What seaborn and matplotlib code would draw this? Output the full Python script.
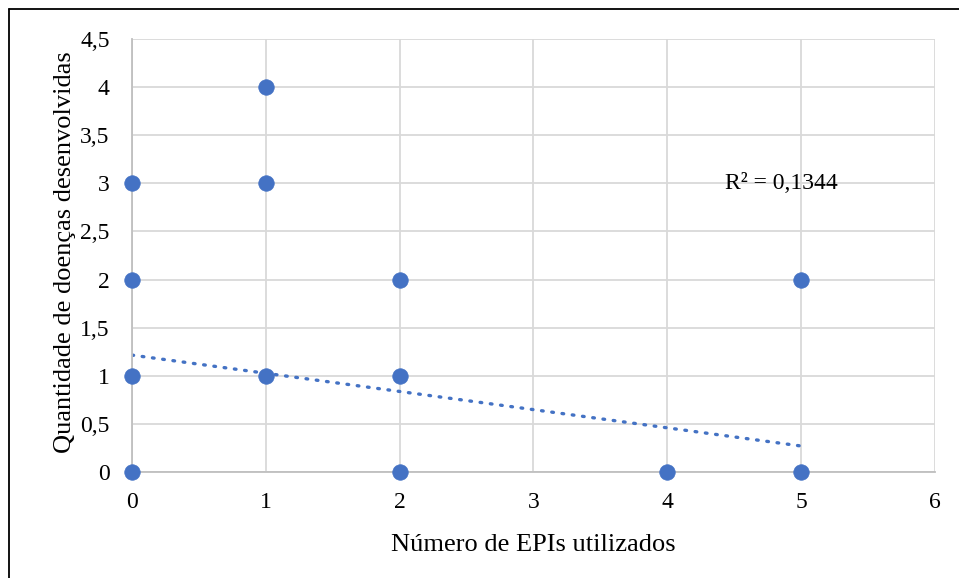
import matplotlib
matplotlib.use("Agg")
import matplotlib.pyplot as plt
import matplotlib.lines as mlines
import numpy as np
import pandas as pd
import seaborn as sns

# Number of PPE items used vs. number of diseases developed
epis_utilizados = [0, 0, 0, 0, 1, 1, 1, 2, 2, 2, 4, 5, 5]
qtd_doencas = [0, 1, 2, 3, 4, 3, 1, 2, 1, 0, 0, 2, 0]

# Linear trendline (Excel-style) and its coefficient of determination
trend_intercept = 1.215
trend_slope = -0.189
r_squared_label = "R² = 0,1344"

x_ticks = [0, 1, 2, 3, 4, 5, 6]
y_ticks = [0, 0.5, 1, 1.5, 2, 2.5, 3, 3.5, 4, 4.5]

df = pd.DataFrame({"epis": epis_utilizados, "doencas": qtd_doencas})

sns.set_theme(style="white")
plt.rcParams["font.family"] = ["Liberation Serif", "DejaVu Serif"]

blue = "#4472C4"
fig = plt.figure(figsize=(9.59, 5.78), dpi=100)
ax = fig.add_axes([0.1376, 0.1834, 0.8374, 0.7491])

sns.scatterplot(data=df, x="epis", y="doencas", ax=ax, color=blue, s=125,
                edgecolor=blue, linewidth=0.5, zorder=3, clip_on=False)

trend_x = np.array([0, 5])
trend_y = trend_intercept + trend_slope * trend_x
ax.plot(trend_x, trend_y, color=blue, linestyle=(0, (0.5, 2.6)), linewidth=2.4,
        dash_capstyle="round", zorder=2)

ax.text(4.43, 3.0, r_squared_label, fontsize=17, color="#000000",
        ha="left", va="center")

ax.set_xlim(0, 6)
ax.set_ylim(0, 4.5)
ax.set_xticks(x_ticks)
ax.set_yticks(y_ticks)
ax.set_xticklabels([str(v) for v in x_ticks], fontsize=17)
ax.set_yticklabels([f"{v:g}".replace(".", ",") for v in y_ticks], fontsize=17)
ax.tick_params(axis="x", length=0, pad=14.5, colors="#000000")
ax.tick_params(axis="y", length=0, pad=16, colors="#000000")

ax.grid(True, color="#d9d9d9", linewidth=1.3)
ax.set_axisbelow(True)
for side in ["top", "right"]:
    ax.spines[side].set_visible(False)
for side in ["left", "bottom"]:
    ax.spines[side].set_color("#bfbfbf")
    ax.spines[side].set_linewidth(1.3)

ax.set_xlabel("Número de EPIs utilizados", fontsize=19, color="#000000", labelpad=15)
ax.set_ylabel("Quantidade de doenças desenvolvidas", fontsize=19, color="#000000", labelpad=3)
ax.yaxis.label.set_y(0.508)

# Chart area frame (top and left edges)
fig.add_artist(mlines.Line2D([0.0094, 1.0], [0.9844, 0.9844], transform=fig.transFigure,
                             color="#000000", linewidth=1.3))
fig.add_artist(mlines.Line2D([0.0094, 0.0094], [0.0, 0.9844], transform=fig.transFigure,
                             color="#000000", linewidth=1.3))

fig.savefig("out.png", dpi=100, facecolor="white")
